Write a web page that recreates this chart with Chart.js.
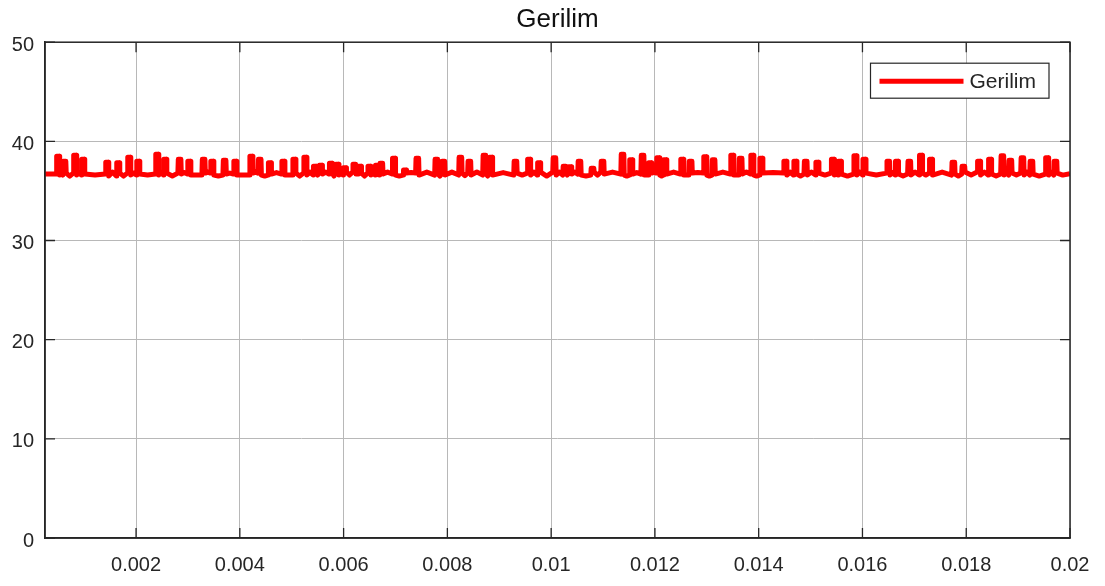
<!DOCTYPE html>
<html>
<head>
<meta charset="utf-8">
<title>Gerilim</title>
<script src="https://cdn.jsdelivr.net/npm/chart.js@4.4.1/dist/chart.umd.min.js"></script>
<style>
  html, body { margin: 0; padding: 0; background: #fff; }
  #grafica_gerilim { display: block; }
</style>
</head>
<body>
<canvas id="grafica_gerilim" width="1105" height="586"></canvas>
<script>
// eksen sinirlari ve tick etiketleri
const xMin = 0.000245;
const xMax = 0.02;
const xTicks = [0.002, 0.004, 0.006, 0.008, 0.01, 0.012, 0.014, 0.016, 0.018, 0.02];
const xTickLabels = ['0.002', '0.004', '0.006', '0.008', '0.01', '0.012', '0.014', '0.016', '0.018', '0.02'];
const yTicks = [0, 10, 20, 30, 40, 50];

// darbe zamanlari (ms), tepe degerleri, darbeden sonraki taban ve ara taban seviyesi (V)
const pulseMs = [0.495, 0.621, 0.823, 0.978, 1.441, 1.653, 1.865, 2.039, 2.405, 2.560,
  2.839, 3.023, 3.302, 3.466, 3.707, 3.910, 4.219, 4.383, 4.576,
  4.836, 5.048, 5.260, 5.444, 5.559, 5.752, 5.878, 6.022, 6.206, 6.312, 6.495, 6.640, 6.727,
  6.968, 7.180, 7.421, 7.788, 7.923, 8.251, 8.424, 8.714, 8.839, 9.312, 9.572,
  9.765, 10.064, 10.257, 10.363, 10.546, 10.797, 10.990, 11.376, 11.540, 11.762, 11.906,
  12.061, 12.196, 12.524, 12.688, 12.967, 13.131, 13.488, 13.652, 13.874, 14.048,
  14.511, 14.704, 14.906, 15.128, 15.427, 15.562, 15.861, 16.035, 16.498, 16.662, 16.903,
  17.125, 17.318, 17.752, 17.945, 18.244, 18.456, 18.697, 18.851, 19.083, 19.257, 19.556, 19.720];
const peakV = [38.5, 38.0, 38.6, 38.2, 37.9, 37.85, 38.4, 38.0, 38.7, 38.2,
  38.2, 38.0, 38.2, 38.0, 38.1, 38.0, 38.5, 38.2, 37.85,
  38.0, 38.2, 38.4, 37.5, 37.6, 37.8, 37.7, 37.35, 37.7, 37.5, 37.5, 37.6, 37.8,
  38.3, 37.1, 38.3, 38.2, 38.0, 38.4, 38.0, 38.6, 38.4, 38.0, 38.2,
  37.85, 38.35, 37.5, 37.45, 38.0, 37.3, 38.0, 38.7, 38.15, 38.6, 37.85,
  38.35, 38.15, 38.2, 38.0, 38.45, 38.15, 38.6, 38.3, 38.6, 38.3,
  38.0, 38.0, 38.0, 37.9, 38.2, 38.0, 38.55, 38.2, 38.0, 38.0, 38.0,
  38.6, 38.2, 37.9, 37.5, 38.0, 38.2, 38.55, 38.1, 38.35, 38.0, 38.35, 38.0];
const lowV = [36.6, 36.8, 36.6, 36.7, 36.5, 36.8, 36.6, 36.7, 36.6, 36.8,
  36.7, 36.6, 36.8, 36.6, 36.7, 36.6, 36.8, 36.6, 36.7, 36.6,
  36.8, 36.6, 36.9, 36.7, 36.8, 36.6, 36.9, 36.7, 36.8, 36.6,
  36.9, 36.7, 36.6, 36.8, 36.6, 36.7, 36.6, 36.8, 36.6, 36.7,
  36.6, 36.8, 36.6, 36.9, 36.6, 36.8, 36.7, 36.6, 36.9, 36.7,
  36.6, 36.7, 36.6, 36.8, 36.6, 36.7, 36.6, 36.8, 36.6, 36.7,
  36.6, 36.7, 36.6, 36.8, 36.6, 36.7, 36.6, 36.8, 36.6, 36.7,
  36.6, 36.8, 36.6, 36.7, 36.6, 36.8, 36.6, 36.7, 36.9, 36.6,
  36.7, 36.6, 36.8, 36.6, 36.7, 36.6, 36.8];
const midV = [36.9, 36.5, 36.85, 36.6, 36.9, 36.5, 36.8, 36.6, 36.9, 36.5,
  36.85, 36.6, 36.9, 36.5, 36.8, 36.6, 36.9, 36.5, 36.85, 36.6,
  36.5, 36.9, 36.6, 36.9, 36.5, 36.9, 36.6, 36.9, 36.5, 36.9,
  36.6, 36.9, 36.5, 36.85, 36.9, 36.5, 36.9, 36.55, 36.9, 36.5,
  36.85, 36.6, 36.9, 36.5, 36.9, 36.6, 36.9, 36.5, 36.6, 36.9,
  36.5, 36.85, 36.6, 36.9, 36.5, 36.9, 36.6, 36.85, 36.5, 36.9,
  36.6, 36.9, 36.5, 36.85, 36.9, 36.5, 36.9, 36.6, 36.85, 36.5,
  36.9, 36.6, 36.85, 36.5, 36.9, 36.6, 36.9, 36.5, 36.6, 36.9,
  36.5, 36.85, 36.6, 36.9, 36.5, 36.9, 36.6];
const startV = 36.7;
const endV = 36.75;
const pulseWidthMs = 0.05;
const edgeMs = 0.008;

const fontFamily = "'Liberation Sans', Arial, Helvetica, sans-serif";
const axisColor = '#262626';

function armarPuntos() {
  const pts = [{ x: xMin, y: startV }];
  const hw = pulseWidthMs / 2;
  pulseMs.forEach((t, i) => {
    const prev = i ? lowV[i - 1] : startV;
    const next = i < pulseMs.length - 1 ? pulseMs[i + 1] : xMax * 1000;
    pts.push({ x: (t - hw - edgeMs) / 1000, y: prev });
    pts.push({ x: (t - hw) / 1000, y: peakV[i] });
    pts.push({ x: (t + hw) / 1000, y: peakV[i] });
    pts.push({ x: (t + hw + edgeMs) / 1000, y: lowV[i] });
    pts.push({ x: (t + next) / 2000, y: midV[i] });
  });
  pts.push({ x: xMax, y: endV });
  return pts;
}

// cerceve, ic tickler, baslik ve lejant
const marcoPlugin = {
  id: 'marco',
  afterDraw(chart) {
    const ctx = chart.ctx;
    const a = chart.chartArea;
    const sx = chart.scales.x, sy = chart.scales.y;
    ctx.save();
    ctx.strokeStyle = axisColor;
    ctx.lineWidth = 1.3;
    ctx.beginPath();
    xTicks.forEach(v => {
      const px = sx.getPixelForValue(v);
      ctx.moveTo(px, a.bottom); ctx.lineTo(px, a.bottom - 10);
      ctx.moveTo(px, a.top); ctx.lineTo(px, a.top + 10);
    });
    yTicks.forEach(v => {
      const py = sy.getPixelForValue(v);
      ctx.moveTo(a.left, py); ctx.lineTo(a.left + 10, py);
      ctx.moveTo(a.right, py); ctx.lineTo(a.right - 10, py);
    });
    ctx.stroke();
    ctx.lineWidth = 1.5;
    ctx.strokeRect(a.left, a.top, a.right - a.left, a.bottom - a.top);

    // lejant
    const ds = chart.data.datasets[0];
    ctx.font = '21px ' + fontFamily;
    const tw = ctx.measureText(ds.label).width;
    const w = 9 + 84 + 6 + tw + 13;
    const h = 35;
    const bx = a.right - 21 - w;
    const by = a.top + 21;
    ctx.fillStyle = '#fff';
    ctx.fillRect(bx, by, w, h);
    ctx.lineWidth = 1.2;
    ctx.strokeStyle = axisColor;
    ctx.strokeRect(bx, by, w, h);
    ctx.strokeStyle = ds.borderColor;
    ctx.lineWidth = 5;
    ctx.beginPath();
    ctx.moveTo(bx + 9, by + 18);
    ctx.lineTo(bx + 93, by + 18);
    ctx.stroke();
    ctx.fillStyle = axisColor;
    ctx.textBaseline = 'middle';
    ctx.textAlign = 'left';
    ctx.fillText(ds.label, bx + 99, by + 19);
    ctx.restore();
  }
};

let chartGerilim = null;

function inicializarChartGerilim() {
  const ctx = document.getElementById('grafica_gerilim').getContext('2d');
  Chart.defaults.font.family = fontFamily;

  chartGerilim = new Chart(ctx, {
    type: 'line',
    data: {
      datasets: [{
        label: 'Gerilim',
        data: armarPuntos(),
        borderColor: '#ff0000',
        backgroundColor: '#ff0000',
        borderWidth: 5,
        borderJoinStyle: 'round',
        pointRadius: 0,
        tension: 0,
        fill: false
      }]
    },
    options: {
      responsive: false,
      animation: false,
      layout: { padding: { left: 0, right: 35, top: 0, bottom: 0 } },
      scales: {
        x: {
          type: 'linear',
          min: xMin,
          max: xMax,
          afterBuildTicks: (s) => { s.ticks = xTicks.map(v => ({ value: v })); },
          afterFit: (s) => { s.height = 48; },
          ticks: {
            autoSkip: false,
            maxRotation: 0,
            padding: 15,
            color: axisColor,
            font: { size: 20 },
            callback: (v, i) => xTickLabels[i]
          },
          grid: { color: '#b8b8b8', lineWidth: 1, drawTicks: false },
          border: { color: axisColor, width: 1.5 }
        },
        y: {
          min: 0,
          max: 50,
          afterFit: (s) => { s.width = 45; },
          ticks: {
            stepSize: 10,
            padding: 11,
            labelOffset: 3,
            color: axisColor,
            font: { size: 20 }
          },
          grid: { color: '#b8b8b8', lineWidth: 1, drawTicks: false },
          border: { color: axisColor, width: 1.5 }
        }
      },
      plugins: {
        legend: { display: false },
        tooltip: { enabled: false },
        title: {
          display: true,
          fullSize: false,
          text: 'Gerilim',
          color: '#111',
          font: { size: 26, weight: 'normal' },
          padding: { top: 4, bottom: 7 }
        }
      }
    },
    plugins: [marcoPlugin]
  });
}

inicializarChartGerilim();
</script>
</body>
</html>
